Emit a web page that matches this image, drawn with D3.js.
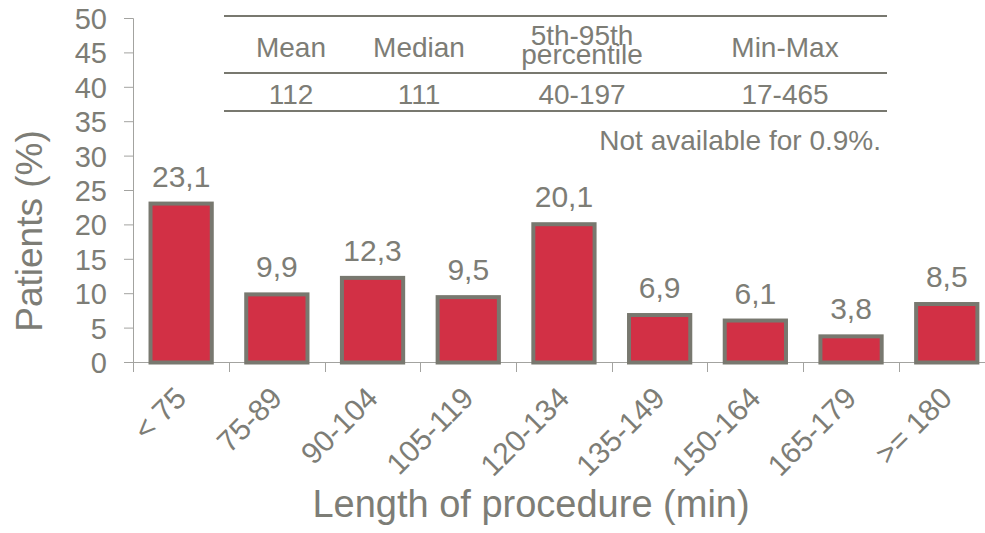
<!DOCTYPE html>
<html>
<head>
<meta charset="utf-8">
<script src="https://cdn.jsdelivr.net/npm/d3@7/dist/d3.min.js"></script>
<style>
  html, body { margin: 0; padding: 0; background: #ffffff; }
  svg { display: block; }
  text { font-family: "Liberation Sans", Arial, sans-serif; fill: #7d7d76; }
</style>
</head>
<body>
<svg id="chart" width="985" height="533"></svg>
<script>
// Distribution of procedure length
const categories = ["< 75", "75-89", "90-104", "105-119", "120-134", "135-149", "150-164", "165-179", ">= 180"];
const values = [23.1, 9.9, 12.3, 9.5, 20.1, 6.9, 6.1, 3.8, 8.5];
const yTicks = [0, 5, 10, 15, 20, 25, 30, 35, 40, 45, 50];

// Summary statistics table
const tableHeaders = [["Mean"], ["Median"], ["5th-95th", "percentile"], ["Min-Max"]];
const tableValues = ["112", "111", "40-197", "17-465"];
const footnote = "Not available for 0.9%.";

const yTitle = "Patients (%)";
const xTitle = "Length of procedure (min)";

const svg = d3.select("#chart");
const ink = "#78786f";
const axisInk = "#a3a3a0";
const barFill = "#d23045";

const x = d3.scaleBand()
  .domain(categories)
  .range([133.3, 994.6])
  .paddingInner(0.36)
  .paddingOuter(0.18);
const step = x.step();
const edge = c => x(c) - (step - x.bandwidth()) / 2;

const y = d3.scaleLinear().domain([0, 50]).range([362.5, 18.5]);

const fmt = v => d3.format(".1f")(v).replace(".", ",");

// Y axis
const gy = svg.append("g");
gy.append("line")
  .attr("x1", 133.5).attr("x2", 133.5)
  .attr("y1", y(50)).attr("y2", 372)
  .attr("stroke", axisInk).attr("stroke-width", 1);
gy.selectAll("line.tick").data(yTicks).join("line")
  .attr("class", "tick")
  .attr("x1", 124).attr("x2", 133.5)
  .attr("y1", d => y(d)).attr("y2", d => y(d))
  .attr("stroke", axisInk).attr("stroke-width", 1);
gy.selectAll("text").data(yTicks).join("text")
  .attr("x", 107)
  .attr("y", d => y(d) + 10.4)
  .attr("text-anchor", "end")
  .attr("font-size", 29)
  .text(d => d);

// X axis
const gx = svg.append("g");
gx.append("line")
  .attr("x1", 124).attr("x2", 995)
  .attr("y1", y(0)).attr("y2", y(0))
  .attr("stroke", axisInk).attr("stroke-width", 1);
gx.selectAll("line.tick").data(categories).join("line")
  .attr("class", "tick")
  .attr("x1", d => Math.round(edge(d)) + 0.5).attr("x2", d => Math.round(edge(d)) + 0.5)
  .attr("y1", y(0)).attr("y2", y(0) + 9.5)
  .attr("stroke", axisInk).attr("stroke-width", 1);
gx.selectAll("text").data(categories).join("text")
  .attr("transform", d => `translate(${x(d) + x.bandwidth() / 2 + 7},400) rotate(-45)`)
  .attr("text-anchor", "end")
  .attr("font-size", 30)
  .text(d => d);

// Bars
svg.append("g").selectAll("rect").data(values).join("rect")
  .attr("x", (d, i) => x(categories[i]))
  .attr("y", d => y(d))
  .attr("width", x.bandwidth())
  .attr("height", d => y(0) - y(d))
  .attr("fill", barFill)
  .attr("stroke", ink)
  .attr("stroke-width", 4);

// Value labels
svg.append("g").selectAll("text").data(values).join("text")
  .attr("x", (d, i) => x(categories[i]) + x.bandwidth() / 2)
  .attr("y", d => y(d) - 17)
  .attr("text-anchor", "middle")
  .attr("font-size", 30)
  .text(d => fmt(d));

// Axis titles
svg.append("text")
  .attr("transform", "translate(42,231) rotate(-90)")
  .attr("text-anchor", "middle")
  .attr("font-size", 37)
  .text(yTitle);
svg.append("text")
  .attr("x", 531)
  .attr("y", 517)
  .attr("text-anchor", "middle")
  .attr("font-size", 38)
  .text(xTitle);

// Statistics table
const colX = [291, 419, 582, 785];
const table = svg.append("g");
[16, 73, 111].forEach(ly => {
  table.append("line")
    .attr("x1", 224).attr("x2", 887)
    .attr("y1", ly).attr("y2", ly)
    .attr("stroke", ink).attr("stroke-width", 2);
});
tableHeaders.forEach((lines, i) => {
  const t = table.append("text")
    .attr("text-anchor", "middle")
    .attr("font-size", 28);
  if (lines.length === 1) {
    t.attr("x", colX[i]).attr("y", 57).text(lines[0]);
  } else {
    lines.forEach((ln, j) => {
      t.append("tspan").attr("x", colX[i]).attr("y", 45 + j * 19).text(ln);
    });
  }
});
tableValues.forEach((v, i) => {
  table.append("text")
    .attr("x", colX[i]).attr("y", 104)
    .attr("text-anchor", "middle")
    .attr("font-size", 28)
    .text(v);
});
table.append("text")
  .attr("x", 881).attr("y", 150)
  .attr("text-anchor", "end")
  .attr("font-size", 28)
  .text(footnote);
</script>
</body>
</html>
